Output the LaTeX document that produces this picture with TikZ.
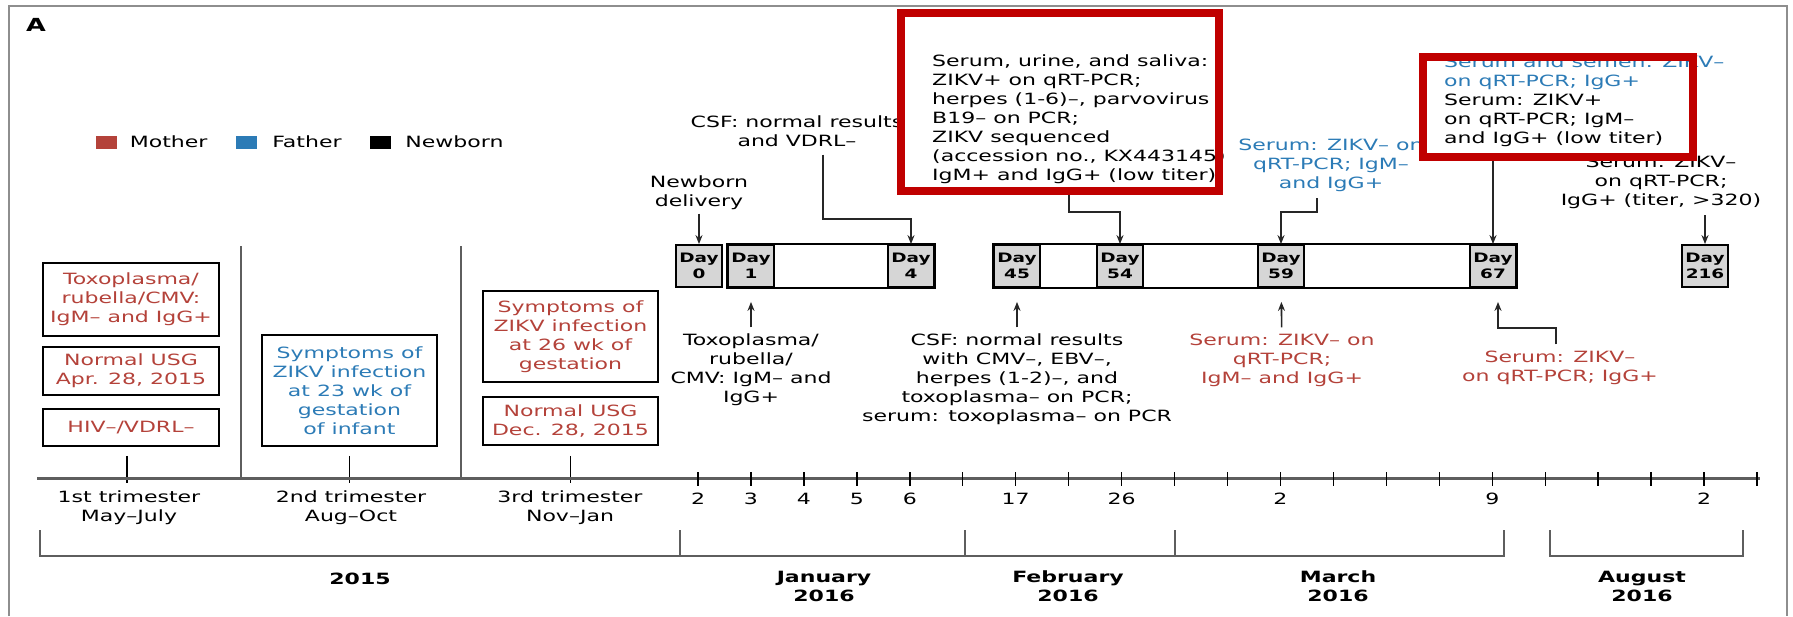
\documentclass[tikz,border=0pt]{standalone}
\usepackage{fontspec}
\setmainfont{DejaVu Sans}[FakeStretch=1.42]
\usepackage{xcolor}
\usepackage{tikz}
\usetikzlibrary{arrows.meta,positioning}
\definecolor{momred}{HTML}{B4423A}
\definecolor{dadblue}{HTML}{2C7BB6}
\definecolor{hlred}{HTML}{C00000}
\definecolor{dayfill}{HTML}{D6D6D6}
\definecolor{framegray}{HTML}{8E8E8E}
\definecolor{axisgray}{HTML}{5E5E5E}
\newcommand{\figfont}{\fontsize{15.5}{19}\selectfont}

\begin{document}
\begin{tikzpicture}[
  x=1pt, y=-1pt,
  >={Stealth[length=9pt,width=7pt]},
  txt/.style={font=\figfont, align=center, inner sep=0pt},
  momtxt/.style={txt, text=momred},
  dadtxt/.style={txt, text=dadblue},
  infobox/.style={draw, line width=1.8pt, minimum width=176pt, inner sep=0pt, font=\figfont, align=center},
  daybox/.style={draw, line width=1.8pt, fill=dayfill, minimum width=46pt, minimum height=42pt, inner sep=0pt, align=center, font=\fontsize{13}{16}\selectfont\bfseries},
  strip/.style={draw, line width=1.8pt},
  hlbox/.style={draw=hlred, line width=7.5pt, inner sep=0pt},
  conn/.style={->, line width=1.6pt, black!85},
  upconn/.style={conn, shorten >=14pt, shorten <=6pt},
  legsq/.style={minimum width=21pt, minimum height=13pt, inner sep=0pt},
  month/.style={txt, font=\figfont\bfseries},
  sepline/.style={axisgray, line width=2.4pt},
  bracket/.style={axisgray, line width=2.4pt}
]
  \useasboundingbox (0,0) rectangle (1793,616);
  % frame and panel letter
  \draw[framegray, line width=2.5pt] (9,616) -- (9,6) -- (1787,6) -- (1787,616);
  \node[font=\fontsize{18}{20}\selectfont\bfseries] (lblA) at (36,25) {A};

  % legend
  \node[legsq, fill=momred] (sqmom) at (106,142) {};
  \node[txt, right=13pt of sqmom] (lgmom) {Mother};
  \node[legsq, fill=dadblue, right=28pt of lgmom] (sqdad) {};
  \node[txt, right=15pt of sqdad] (lgdad) {Father};
  \node[legsq, fill=black, right=28pt of lgdad] (sqnew) {};
  \node[txt, right=14pt of sqnew] (lgnew) {Newborn};

  % trimester columns
  \draw[sepline] (241,246) -- (241,478);
  \draw[sepline] (461,246) -- (461,478);
  \node[infobox, text=momred, minimum height=73pt] (toxo) at (131,299.5) {Toxoplasma/\\rubella/CMV:\\IgM– and IgG+};
  \node[infobox, text=momred, minimum height=48pt] (usga) at (131,371) {Normal USG\\Apr. 28, 2015};
  \node[infobox, text=momred, minimum height=37pt] (hiv) at (131,427.5) {HIV–/VDRL–};
  \node[infobox, text=dadblue, minimum width=175pt, minimum height=111pt] (dadsym) at (349.5,390.5) {Symptoms of\\ZIKV infection\\at 23 wk of\\gestation\\of infant};
  \node[infobox, text=momred, minimum width=175pt, minimum height=91pt] (momsym) at (570.5,336.5) {Symptoms of\\ZIKV infection\\at 26 wk of\\gestation};
  \node[infobox, text=momred, minimum width=175pt, minimum height=48pt] (usgb) at (570.5,421) {Normal USG\\Dec. 28, 2015};
  \draw[line width=1.6pt] ([xshift=-4pt,yshift=-9pt]hiv.south) -- ([xshift=-4pt,yshift=-36pt]hiv.south);
  \draw[line width=1.6pt] ([yshift=-9pt]dadsym.south) -- ([yshift=-36pt]dadsym.south);
  \draw[line width=1.6pt] ([yshift=-10pt]usgb.south) -- ([yshift=-37pt]usgb.south);

  % time axis
  \draw[axisgray, line width=3pt] (37,478) -- (1760,478);
  \foreach \k in {0,...,20}
    \draw[line width=1.4pt] ({698+52.95*\k},472) -- ++(0,14);
  \foreach \k/\d in {0/2,1/3,2/4,3/5,4/6,6/17,8/26,11/2,15/9,19/2}
    \node[txt] (tk\k) at ({698+52.95*\k},499) {\d};
  \node[txt] (trione) at (129,508) {1st trimester\\May–July};
  \node[txt] (tritwo) at (351,508) {2nd trimester\\Aug–Oct};
  \node[txt] (trithree) at (570,508) {3rd trimester\\Nov–Jan};

  % month brackets
  \draw[bracket] (40,530) -- (40,556) -- (1504,556) -- (1504,530);
  \foreach \x in {680,965,1175}
    \draw[bracket] (\x,530) -- (\x,556);
  \draw[bracket] (1550,530) -- (1550,556) -- (1743,556) -- (1743,530);
  \node[month] (yr) at (360,579) {2015};
  \node[month] (jan) at (824,586) {January\\2016};
  \node[month] (feb) at (1068,586) {February\\2016};
  \node[month] (mar) at (1338,586) {March\\2016};
  \node[month] (aug) at (1642,586) {August\\2016};

  % day boxes
  \node[daybox] (d0) at (699,266) {Day\\0};
  \node[daybox] (d1) at (751,266) {Day\\1};
  \node[daybox] (d4) at (911,266) {Day\\4};
  \node[daybox] (d45) at (1017,266) {Day\\45};
  \node[daybox] (d54) at (1120,266) {Day\\54};
  \node[daybox] (d59) at (1281,266) {Day\\59};
  \node[daybox] (d67) at (1493,266) {Day\\67};
  \node[daybox] (d216) at (1705,266) {Day\\216};
  \draw[strip] (d1.north west) rectangle (d4.south east);
  \draw[strip] (d45.north west) rectangle (d67.south east);

  % results above the boxes
  \node[txt] (newborn) at (699,192.5) {Newborn\\delivery};
  \draw[conn, shorten <=4pt] (newborn) -- (d0);
  \node[txt] (csfa) at (797,131) {CSF: normal results\\and VDRL–};
  \draw[conn, shorten <=8pt] ([xshift=26pt]csfa.south) |- ([yshift=25pt]d4.north) -- (d4.north);
  \node[txt, align=left, anchor=north west] (zikvpos) at (932,55) {Serum, urine, and saliva:\\ZIKV+ on qRT-PCR;\\herpes (1-6)–, parvovirus\\B19– on PCR;\\ZIKV sequenced\\(accession no., KX443145)\\IgM+ and IgG+ (low titer)};
  \node[dadtxt] (dad59) at (1331,165.5) {Serum: ZIKV– on\\qRT-PCR; IgM–\\and IgG+};
  \draw[conn, shorten <=6pt] ([xshift=-14pt]dad59.south) |- ([yshift=32pt]d59.north) -- (d59.north);
  \node[txt, align=left, anchor=north west] (semen) at (1444,56) {\textcolor{dadblue}{Serum and semen: ZIKV–}\\\textcolor{dadblue}{on qRT-PCR; IgG+}\\Serum: ZIKV+\\on qRT-PCR; IgM–\\and IgG+ (low titer)};
  \node[txt] (new216) at (1661,182.5) {Serum: ZIKV–\\on qRT-PCR;\\IgG+ (titer, >320)};
  \draw[conn, shorten <=6pt] (new216.south -| d216.north) -- (d216.north);

  % results below the boxes
  \node[txt] (toxob) at (751,369.5) {Toxoplasma/\\rubella/\\CMV: IgM– and\\IgG+};
  \draw[upconn] (toxob) -- (d1);
  \node[txt] (csfb) at (1017,379) {CSF: normal results\\with CMV–, EBV–,\\herpes (1-2)–, and\\toxoplasma– on PCR;\\serum: toxoplasma– on PCR};
  \draw[upconn] (csfb) -- (d45);
  \node[momtxt] (mom59) at (1282,360) {Serum: ZIKV– on\\qRT-PCR;\\IgM– and IgG+};
  \draw[upconn] (mom59) -- (d59);
  \node[momtxt] (mom67) at (1560,367.5) {Serum: ZIKV–\\on qRT-PCR; IgG+};
  \draw[upconn] ([xshift=-4pt]mom67.north) |- ([xshift=5pt,yshift=-40pt]d67.south) -- ([xshift=5pt]d67.south);

  % highlight boxes, drawn last
  \node[hlbox, minimum width=318pt, minimum height=178pt] (hla) at (1060,102) {};
  \draw[conn] ([xshift=9pt]hla.south) |- ([yshift=32pt]d54.north) -- (d54.north);
  \node[hlbox, minimum width=270pt, minimum height=100pt] (hlb) at (1558,107) {};
  \draw[conn] (hlb.south -| d67.north) -- (d67.north);
\end{tikzpicture}
\end{document}
